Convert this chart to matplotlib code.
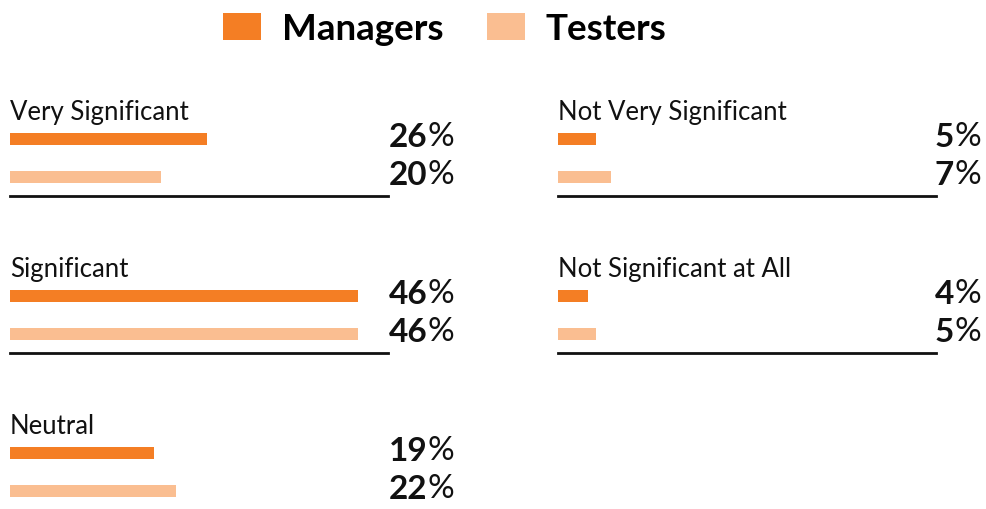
import matplotlib
matplotlib.use("Agg")
import matplotlib.pyplot as plt
from matplotlib.patches import Patch

plt.rcParams['font.family'] = ['Lato', 'DejaVu Sans']

# datos
categorias = ["Very Significant", "Significant", "Neutral",
              "Not Very Significant", "Not Significant at All"]
managers = [26, 46, 19, 5, 4]
testers = [20, 46, 22, 7, 5]
series = ["Managers", "Testers"]

color_man = "#F47E24"
color_test = "#FABE91"

W, H = 986, 510
fig = plt.figure(figsize=(W / 100, H / 100), dpi=100)

# posicion de cada panel: (x izquierda px, y de la linea base px, desplazamiento del valor px)
paneles = [
    (10, 197, 66), (10, 354, 66), (10, 511, 66),
    (558, 197, 45), (558, 354, 45),
]
ancho_px = 378
alto_px = 76

for cat, m, t, (x0, base, off) in zip(categorias, managers, testers, paneles):
    ax = fig.add_axes([x0 / W, (H - base) / H, ancho_px / W, alto_px / H])
    ax.barh([1, 0], [m, t], height=0.34, color=[color_man, color_test], left=0)
    ax.set_xlim(0, 50)
    ax.set_ylim(-0.5, 1.5)
    for s in ["top", "right", "left"]:
        ax.spines[s].set_visible(False)
    ax.spines["bottom"].set_linewidth(2.0)
    ax.spines["bottom"].set_color("#111111")
    ax.set_xticks([])
    ax.set_yticks([])
    ax.patch.set_alpha(0)

    ax.text(0, 1.52, cat, fontsize=18.5, fontweight="normal", ha="left",
            va="baseline", color="#111111")

    # valores: numero en negrita + "%"
    for yv, v in [(1, m), (0, t)]:
        pct = ax.annotate("%", xy=(1, yv - 0.17), xycoords=("axes fraction", "data"),
                          xytext=(off * 0.72, 0), textcoords="offset points",
                          ha="right", va="baseline", fontsize=24,
                          fontweight="normal", color="#111111", annotation_clip=False)
        ax.annotate(str(v), xy=(0, 0), xycoords=pct, ha="right", va="bottom",
                    fontsize=24, fontweight="bold", color="#111111")

# leyenda
handles = [Patch(facecolor=color_man, edgecolor="none"),
           Patch(facecolor=color_test, edgecolor="none")]
leg = fig.legend(handles, series, loc="upper left", bbox_to_anchor=(223 / W, 1 - 13 / H),
                 ncol=2, frameon=False, borderpad=0, borderaxespad=0,
                 handlelength=1.04, handleheight=0.74, handletextpad=0.55,
                 columnspacing=1.2, prop={"size": 26.5, "weight": "bold"})

fig.savefig("out.png", dpi=100)
